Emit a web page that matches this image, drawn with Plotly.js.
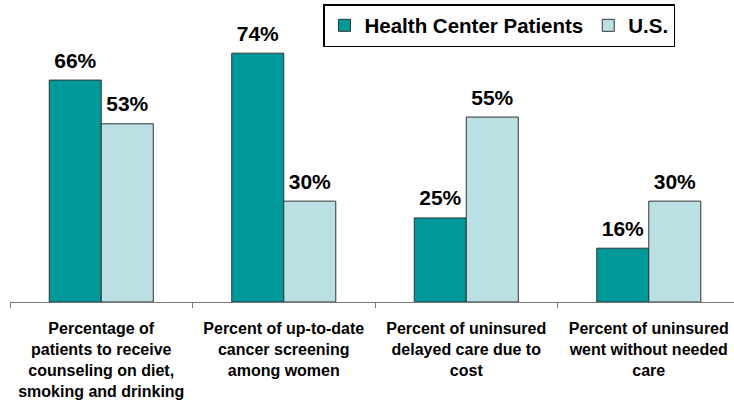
<!DOCTYPE html>
<html>
<head>
<meta charset="utf-8">
<script src="https://cdn.plot.ly/plotly-3.0.1.min.js"></script>
<style>html,body{margin:0;padding:0;background:#fff;}#chart{width:734px;height:402px;}</style>
</head>
<body>
<div id="chart"></div>
<script>
const categories = [
  "Percentage of<br>patients to receive<br>counseling on diet,<br>smoking and drinking",
  "Percent of up-to-date<br>cancer screening<br>among women",
  "Percent of uninsured<br>delayed care due to<br>cost",
  "Percent of uninsured<br>went without needed<br>care"
];
const healthCenter = [66, 74, 25, 16];
const us = [53, 30, 55, 30];
const seriesNames = ["Health Center Patients", "U.S."];

const font = "Liberation Sans, Arial, sans-serif";
const pct = v => v.map(x => x + "%");
const colors = ["#009999", "#BBE0E3"];
const values = [healthCenter, us];

const traces = [];
values.forEach((vals, i) => {
  traces.push({
    type: "bar", name: seriesNames[i], x: categories, y: vals,
    offsetgroup: "g" + i, alignmentgroup: "a",
    marker: {color: colors[i], line: {color: "#333333", width: 1}}
  });
});
values.forEach((vals, i) => {
  traces.push({
    type: "scatter", mode: "markers+text", x: categories, y: vals,
    offsetgroup: "g" + i, alignmentgroup: "a", showlegend: false,
    text: pct(vals), textposition: "top center", cliponaxis: false,
    marker: {size: 10, opacity: 0},
    textfont: {family: font, size: 21, color: "#000", weight: "bold"}
  });
});

const layout = {
  width: 734, height: 402,
  margin: {l: 10, r: 0, t: 33, b: 100, autoexpand: false},
  paper_bgcolor: "#fff", plot_bgcolor: "#fff",
  barmode: "group", bargap: 0.43, bargroupgap: 0,
  scattermode: "group", scattergap: 0.43,
  font: {family: font, color: "#000"},
  showlegend: true,
  legend: {
    orientation: "h", xref: "container", yref: "container",
    x: 675/734, xanchor: "right", y: 1 - 4/402, yanchor: "top",
    bordercolor: "#000", borderwidth: 1.5, bgcolor: "#fff",
    font: {family: font, size: 20.5, color: "#000", weight: "bold"},
    traceorder: "normal"
  },
  xaxis: {
    type: "category", range: [-0.5, 3.467], fixedrange: true,
    showline: true, linecolor: "#777", linewidth: 1,
    ticks: "outside", tickson: "boundaries", ticklen: 5, tickcolor: "#777",
    showgrid: false, zeroline: false, tickangle: 0,
    ticklabelstandoff: 12,
    tickfont: {family: font, size: 16, color: "#000", weight: "bold"}
  },
  yaxis: {
    range: [0, 80], visible: false, showgrid: false, zeroline: false, fixedrange: true
  }
};

Plotly.newPlot("chart", traces, layout, {displayModeBar: false, staticPlot: true});
</script>
</body>
</html>
